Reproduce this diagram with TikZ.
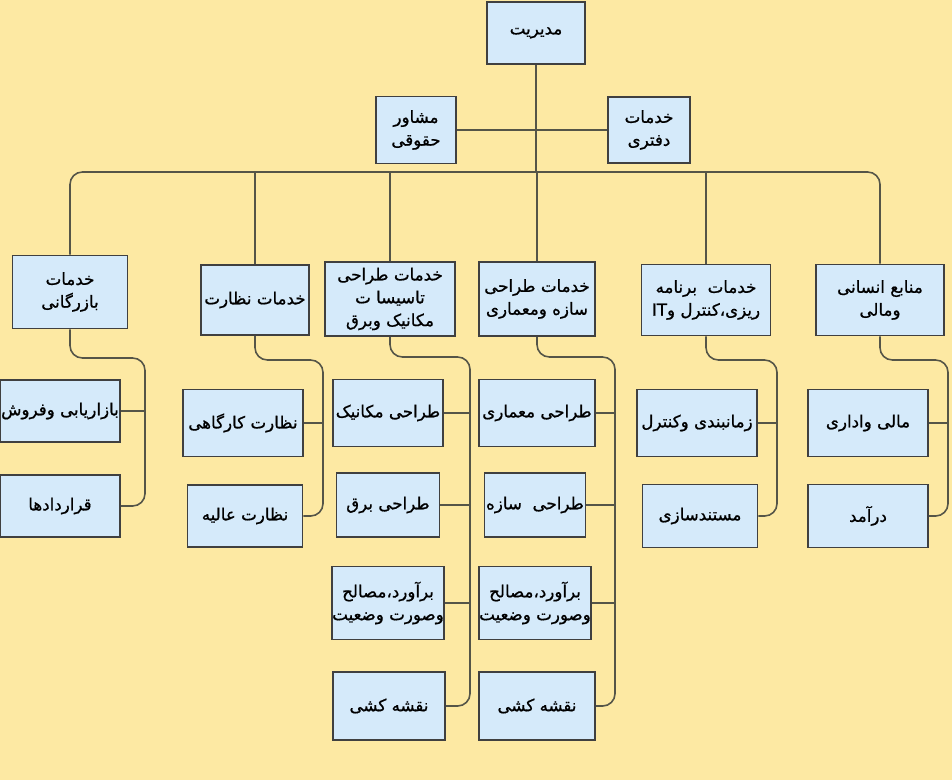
\documentclass[tikz,border=0pt]{standalone}
\usepackage{fontspec}
\usepackage{tikz}
\TeXXeTstate=1
\newfontfamily\farsi[Script=Arabic,FakeBold=0.8]{DejaVu Sans}
\newcommand{\fa}[1]{\beginR #1\endR}
\definecolor{bgyellow}{RGB}{253,233,163}
\definecolor{boxblue}{RGB}{213,234,250}
\definecolor{linkgray}{RGB}{85,85,72}
\tikzset{
  unit/.style={draw=black!75, line width=0.9pt, fill=boxblue, align=center, inner sep=0pt,
    font=\farsi\fontsize{9.5}{13}\selectfont},
  sz/.style 2 args={minimum width=#1*0.02cm, minimum height=#2*0.02cm},
  link/.style={draw=linkgray, line width=0.9pt, rounded corners=7pt}
}

\begin{document}
\begin{tikzpicture}[x=0.02cm, y=-0.02cm]
			\fill[bgyellow] (0,0) rectangle (952,780);
			\useasboundingbox (0,0) rectangle (952,780);
			\coordinate (bus) at (536,172);
			\node[unit, sz={98}{62}] (mgr) at (536,33) {\fa{مدیریت}};
			\node[unit, sz={80}{67}] (legal) at (416,130) {\fa{مشاور}\\\fa{حقوقی}};
			\node[unit, sz={82}{66}] (office) at (649,130) {\fa{خدمات}\\\fa{دفتری}};
			\node[unit, sz={115}{73}] (trade) at (70,292) {\fa{خدمات}\\\fa{بازرگانی}};
			\node[unit, sz={108}{70}] (super) at (255,300) {\fa{خدمات نظارت}};
			\node[unit, sz={130}{74}] (mep) at (390,299) {\fa{خدمات طراحی}\\\fa{تاسیسا ت}\\\fa{مکانیک وبرق}};
			\node[unit, sz={116}{74}] (arch) at (537,299) {\fa{خدمات طراحی}\\\fa{سازه ومعماری}};
			\node[unit, sz={129}{71}] (plan) at (706,300) {\fa{خدمات\ \ برنامه}\\\fa{ریزی،کنترل و\beginL IT\endL}};
			\node[unit, sz={128}{71}] (hr) at (880,300) {\fa{منابع انسانی}\\\fa{ومالی}};
			\node[unit, sz={120}{62}] (market) at (60,411) {\fa{بازاریابی وفروش}};
			\node[unit, sz={120}{62}] (contract) at (60,506) {\fa{قراردادها}};
			\node[unit, sz={120}{67}] (site) at (243,423) {\fa{نظارت کارگاهی}};
			\node[unit, sz={115}{62}] (high) at (245,516) {\fa{نظارت عالیه}};
			\node[unit, sz={110}{67}] (mech) at (388,413) {\fa{طراحی\ مکانیک}};
			\node[unit, sz={103}{64}] (elec) at (388,505) {\fa{طراحی برق}};
			\node[unit, sz={110}{73}] (estl) at (388,603) {\fa{برآورد،مصالح}\\\fa{وصورت وضعیت}};
			\node[unit, sz={112}{68}] (draftl) at (389,706) {\fa{نقشه کشی}};
			\node[unit, sz={116}{67}] (archd) at (537,413) {\fa{طراحی\ معماری}};
			\node[unit, sz={101}{64}] (struct) at (535,505) {\fa{طراحی\ \ سازه}};
			\node[unit, sz={111}{73}] (estr) at (535,603) {\fa{برآورد،مصالح}\\\fa{وصورت وضعیت}};
			\node[unit, sz={116}{68}] (draftr) at (537,706) {\fa{نقشه کشی}};
			\node[unit, sz={120}{67}] (sched) at (697,423) {\fa{زمانبندی وکنترل}};
			\node[unit, sz={115}{63}] (docs) at (700,516) {\fa{مستندسازی}};
			\node[unit, sz={120}{67}] (fin) at (868,423) {\fa{مالی واداری}};
			\node[unit, sz={120}{63}] (income) at (868,516) {\fa{درآمد}};
			\coordinate (rtrade) at (145,358);
			\coordinate (rsuper) at (323,360);
			\coordinate (rmep) at (470,357);
			\coordinate (rarch) at (615,357);
			\coordinate (rplan) at (777,360);
			\coordinate (rhr) at (948,360);
			\draw[link] (mgr.south) -- (bus);
			\draw[link] (legal.east) -- (office.west);
			\draw[link] (trade.north) |- (bus) -| (hr.north);
			\draw[link] (super.north) -- (super.north |- bus);
			\draw[link] (mep.north) -- (mep.north |- bus);
			\draw[link] (arch.north) -- (arch.north |- bus);
			\draw[link] (plan.north) -- (plan.north |- bus);
			\draw[link] (trade.south) |- (rtrade) |- (contract.east);
			\draw[link] (market.east) -- (market.east -| rtrade);
			\draw[link] (super.south) |- (rsuper) |- (high.east);
			\draw[link] (site.east) -- (site.east -| rsuper);
			\draw[link] (mep.south) |- (rmep) |- (draftl.east);
			\draw[link] (mech.east) -- (mech.east -| rmep);
			\draw[link] (elec.east) -- (elec.east -| rmep);
			\draw[link] (estl.east) -- (estl.east -| rmep);
			\draw[link] (arch.south) |- (rarch) |- (draftr.east);
			\draw[link] (archd.east) -- (archd.east -| rarch);
			\draw[link] (struct.east) -- (struct.east -| rarch);
			\draw[link] (estr.east) -- (estr.east -| rarch);
			\draw[link] (plan.south) |- (rplan) |- (docs.east);
			\draw[link] (sched.east) -- (sched.east -| rplan);
			\draw[link] (hr.south) |- (rhr) |- (income.east);
			\draw[link] (fin.east) -- (fin.east -| rhr);
		\end{tikzpicture}
\end{document}
